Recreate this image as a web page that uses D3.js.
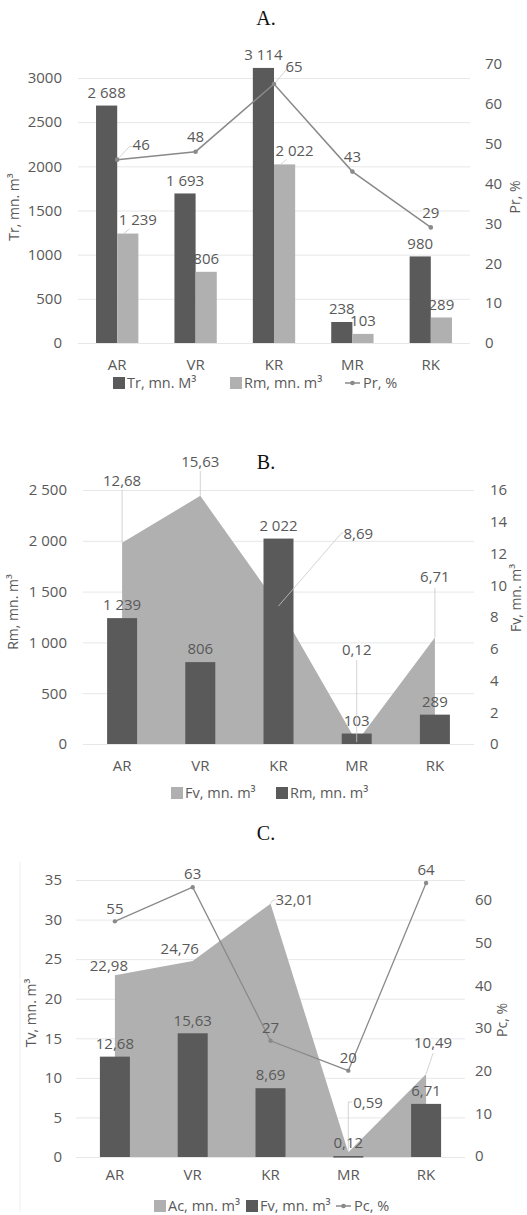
<!DOCTYPE html>
<html><head><meta charset="utf-8">
<script src="https://cdn.jsdelivr.net/npm/d3@7"></script>
<style>
body{margin:0;background:#fff;}
text{font-family:"Open Sans",sans-serif;fill:#595959;}
</style></head>
<body>
<svg id="c" width="527" height="1215"></svg>
<script>
// ---------- DATA ----------
const categories = ["AR","VR","KR","MR","RK"];
// Chart A
const trA = [2688,1693,3114,238,980];
const rmA = [1239,806,2022,103,289];
const prA = [46,48,65,43,29];
const leftTicksA = [0,500,1000,1500,2000,2500,3000];
const rightTicksA = [0,10,20,30,40,50,60,70];
const legendA = ["Tr, mn. M³","Rm, mn. m³","Pr, %"];
// Chart B
const fvB = [12.68,15.63,8.69,0.12,6.71];
const rmB = [1239,806,2022,103,289];
const leftTicksB = [0,500,1000,1500,2000,2500];
const rightTicksB = [0,2,4,6,8,10,12,14,16];
const legendB = ["Fv, mn. m³","Rm, mn. m³"];
// Chart C
const acC = [22.98,24.76,32.01,0.59,10.49];
const fvC = [12.68,15.63,8.69,0.12,6.71];
const pcC = [55,63,27,20,64];
const leftTicksC = [0,5,10,15,20,25,30,35];
const rightTicksC = [0,10,20,30,40,50,60];
const legendC = ["Ac, mn. m³","Fv, mn. m³","Pc, %"];

// ---------- STYLE ----------
const DARK="#5a5a5a", LIGHT="#b0b0b0", LINE="#8a8a8a", GRID="#e7e7e7", LEAD="#c8c8c8", TXT="#595959";
const FS="15px", LFS="14.5px";
const loc = d3.formatLocale({decimal:",",thousands:"\u00a0",grouping:[3],currency:["",""]});
const fInt = loc.format(",");
const fDec = loc.format(".2f");
const fPlain = d3.format("d");

const svg = d3.select("#c");

function title(txt,y){
  svg.append("text").attr("x",266).attr("y",y).attr("text-anchor","middle")
    .style("font-family","'Liberation Serif','Times New Roman',serif").style("font-size","20px").style("fill","#111").text(txt);
}
function axes(g,x,yL,yR,tL,tR,fmtL,x0,x1,padL,padR){
  g.append("g").attr("transform",`translate(${x0},0)`)
    .call(d3.axisLeft(yL).tickValues(tL).tickSize(-(x1-x0)).tickFormat(""))
    .call(s=>{s.select(".domain").remove();s.selectAll("line").attr("stroke",GRID);});
  g.append("g").attr("transform",`translate(${x0},0)`)
    .call(d3.axisLeft(yL).tickValues(tL).tickSize(0).tickPadding(padL).tickFormat(fmtL))
    .call(s=>{s.select(".domain").remove();s.selectAll("text").style("font-size",FS).style("fill",TXT).style("font-family","'Open Sans',sans-serif");});
  g.append("g").attr("transform",`translate(${x1},0)`)
    .call(d3.axisRight(yR).tickValues(tR).tickSize(0).tickPadding(padR).tickFormat(d3.format("d")))
    .call(s=>{s.select(".domain").remove();s.selectAll("text").style("font-size",FS).style("fill",TXT).style("font-family","'Open Sans',sans-serif");});
}
function catLabels(g,x,y){
  g.selectAll(null).data(categories).join("text")
    .attr("x",d=>x(d)+x.bandwidth()/2).attr("y",y).attr("text-anchor","middle")
    .style("font-size",FS).text(d=>d);
}
function vtitle(g,txt,x,y){
  g.append("text").attr("transform",`translate(${x},${y}) rotate(-90)`).attr("text-anchor","middle")
    .style("font-size","14px").text(txt);
}
function label(g,txt,x,y,anchor){
  g.append("text").attr("x",x).attr("y",y).attr("dy","0.35em").attr("text-anchor",anchor||"middle")
    .style("font-size",FS).text(txt);
}
function lead(g,pts){
  g.append("path").attr("d",d3.line()(pts)).attr("fill","none").attr("stroke",LEAD).attr("stroke-width",0.8);
}
function legSquare(g,x,y,col,txt){
  g.append("rect").attr("x",x).attr("y",y-6).attr("width",12).attr("height",12).attr("fill",col);
  g.append("text").attr("x",x+14).attr("y",y).attr("dy","0.35em").style("font-size",LFS).text(txt);
}
function legLine(g,x,y,txt){
  g.append("line").attr("x1",x).attr("x2",x+15).attr("y1",y).attr("y2",y).attr("stroke",LINE).attr("stroke-width",1.5);
  g.append("circle").attr("cx",x+7.5).attr("cy",y).attr("r",2.3).attr("fill",LINE);
  g.append("text").attr("x",x+18).attr("y",y).attr("dy","0.35em").style("font-size",LFS).text(txt);
}

// ================= CHART A =================
(function(){
  title("A.",25);
  const g = svg.append("g");
  const X0=78, X1=470;
  const x = d3.scaleBand().domain(categories).range([X0,X1]).padding(0);
  const xs = d3.scaleBand().domain(["Tr","Rm"]).range([x.bandwidth()*0.23,x.bandwidth()*0.77]);
  const yL = d3.scaleLinear().domain([0,3000]).range([343,78]);
  const yR = d3.scaleLinear().domain([0,70]).range([343,64]);
  axes(g,x,yL,yR,leftTicksA,rightTicksA,fPlain,X0,X1,16,15);
  const series=[{k:"Tr",v:trA,c:DARK},{k:"Rm",v:rmA,c:LIGHT}];
  series.forEach(s=>{
    g.selectAll(null).data(s.v).join("rect")
      .attr("x",(d,i)=>x(categories[i])+xs(s.k)).attr("width",xs.bandwidth())
      .attr("y",d=>yL(d)).attr("height",d=>yL(0)-yL(d)).attr("fill",s.c);
  });
  series.forEach(s=>{
    s.v.forEach((d,i)=>{
      let cx = x(categories[i])+xs(s.k)+xs.bandwidth()/2, cy = yL(d)-13;
      if(s.k==="Rm" && (i===0||i===2)){
        cx += 10; cy -= 1;
        lead(g,[[cx-8,cy+9],[cx-14,yL(d)]]);
      }
      label(g,fInt(d),cx,cy);
    });
  });
  const px=(d,i)=>x(categories[i])+x.bandwidth()/2;
  g.append("path").datum(prA).attr("d",d3.line().x(px).y(d=>yR(d)))
    .attr("fill","none").attr("stroke",LINE).attr("stroke-width",1.5);
  g.selectAll(null).data(prA).join("circle").attr("cx",px).attr("cy",d=>yR(d)).attr("r",2.3).attr("fill",LINE);
  prA.forEach((d,i)=>{
    let cx=px(d,i), cy=yR(d)-15;
    if(i===0){ lead(g,[[cx+2,yR(d)-2],[cx+12,cy+2],[cx+15,cy+2]]); cx+=24; }
    if(i===2){ lead(g,[[cx+2,yR(d)-2],[cx+12,cy+1],[cx+14,cy+1]]); cx+=20; cy-=2;}
    label(g,fPlain(d),cx,cy);
  });
  catLabels(g,x,370);
  vtitle(g,"Tr, mn. m³",19,207);
  vtitle(g,"Pr, %",520,197);
  legSquare(g,113,383,DARK,legendA[0]);
  legSquare(g,230,383,LIGHT,legendA[1]);
  legLine(g,345,383,legendA[2]);
})();

// ================= CHART B =================
(function(){
  title("B.",469);
  const g = svg.append("g");
  const X0=83, X1=474;
  const x = d3.scaleBand().domain(categories).range([X0,X1]).padding(0);
  const yL = d3.scaleLinear().domain([0,2500]).range([744,490]);
  const yR = d3.scaleLinear().domain([0,16]).range([744,490]);
  axes(g,x,yL,yR,leftTicksB,rightTicksB,fInt,X0,X1,16,16);
  const cxf=(d,i)=>x(categories[i])+x.bandwidth()/2;
  g.append("path").datum(fvB).attr("d",d3.area().x(cxf).y0(yR(0)).y1(d=>yR(d))).attr("fill",LIGHT);
  const bw=30;
  g.selectAll(null).data(rmB).join("rect")
    .attr("x",(d,i)=>cxf(d,i)-bw/2).attr("width",bw)
    .attr("y",d=>yL(d)).attr("height",d=>yL(0)-yL(d)).attr("fill",DARK);
  rmB.forEach((d,i)=>label(g,fInt(d),cxf(d,i),yL(d)-13));
  fvB.forEach((d,i)=>{
    const cx=cxf(d,i), cy=yR(d);
    if(i===0){ lead(g,[[cx,cy],[cx,490]]); label(g,fDec(d),cx,481); }
    if(i===1){ lead(g,[[cx,cy],[cx,471]]); label(g,fDec(d),cx,462); }
    if(i===2){ lead(g,[[cx,cy],[cx+63,533],[cx+65,533]]); label(g,fDec(d),cx+65,534,"start"); }
    if(i===3){ lead(g,[[cx,cy],[cx,660]]); label(g,fDec(d),cx,650); }
    if(i===4){ lead(g,[[cx,cy],[cx,588]]); label(g,fDec(d),cx,577); }
  });
  catLabels(g,x,771);
  vtitle(g,"Rm, mn. m³",18,612);
  vtitle(g,"Fv, mn. m³",521,598);
  legSquare(g,171,793,LIGHT,legendB[0]);
  legSquare(g,276,793,DARK,legendB[1]);
})();

// ================= CHART C =================
(function(){
  title("C.",840);
  const g = svg.append("g");
  g.append("line").attr("x1",20).attr("x2",20).attr("y1",862).attr("y2",1212).attr("stroke","#f0f0f0");
  const X0=76, X1=465;
  const x = d3.scaleBand().domain(categories).range([X0,X1]).padding(0);
  const yL = d3.scaleLinear().domain([0,35]).range([1157,880]);
  const yR = d3.scaleLinear().domain([0,60]).range([1156,900]);
  axes(g,x,yL,yR,leftTicksC,rightTicksC,fPlain,X0,X1,14,10);
  const cxf=(d,i)=>x(categories[i])+x.bandwidth()/2;
  g.append("path").datum(acC).attr("d",d3.area().x(cxf).y0(yL(0)).y1(d=>yL(d))).attr("fill",LIGHT);
  const bw=30;
  g.selectAll(null).data(fvC).join("rect")
    .attr("x",(d,i)=>cxf(d,i)-bw/2).attr("width",bw)
    .attr("y",d=>yL(d)).attr("height",d=>Math.max(1.5,yL(0)-yL(d))).attr("fill",DARK);
  fvC.forEach((d,i)=>label(g,fDec(d),cxf(d,i),yL(d)-13));
  g.append("path").datum(pcC).attr("d",d3.line().x(cxf).y(d=>yR(d)))
    .attr("fill","none").attr("stroke",LINE).attr("stroke-width",1.3);
  g.selectAll(null).data(pcC).join("circle").attr("cx",cxf).attr("cy",d=>yR(d)).attr("r",2.2).attr("fill",LINE);
  pcC.forEach((d,i)=>label(g,fPlain(d),cxf(d,i),yR(d)-13));
  acC.forEach((d,i)=>{
    const cx=cxf(d,i), cy=yL(d);
    if(i===0) label(g,fDec(d),cx-6,cy-9);
    if(i===1) label(g,fDec(d),cx-13,cy-12);
    if(i===2){ lead(g,[[cx,cy],[cx+2,cy-3],[cx+5,cy-4]]); label(g,fDec(d),cx+5,cy-4,"start"); }
    if(i===3){ lead(g,[[cx,cy],[cx,1102],[cx+4,1102]]); label(g,fDec(d),cx+5,1103,"start"); }
    if(i===4){ lead(g,[[cx,cy],[cx+7,1053]]); label(g,fDec(d),cx+7,1043); }
  });
  catLabels(g,x,1180);
  vtitle(g,"Tv, mn. m³",36,1013);
  vtitle(g,"Pc, %",507,1020);
  legSquare(g,154,1206,LIGHT,legendC[0]);
  legSquare(g,246,1206,DARK,legendC[1]);
  legLine(g,336,1206,legendC[2]);
})();
</script>
</body></html>
